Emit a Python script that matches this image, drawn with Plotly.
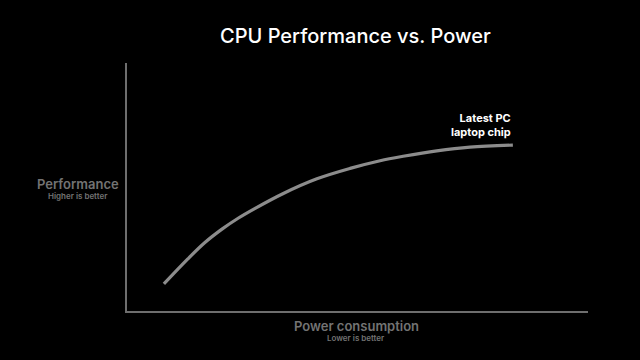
import plotly.graph_objects as go

# Data (abstract units: power 0-100, performance 0-100)
power = [8.0, 13.2, 16.9, 20.6, 24.1, 27.8, 33.8, 41.2, 48.4, 54.9, 59.9, 67.2, 74.4, 83.7]
performance = [10.9, 21.0, 27.6, 33.0, 37.4, 41.4, 47.3, 53.3, 57.5, 60.6, 62.4, 64.6, 66.1, 66.9]

title_text = "CPU Performance vs. Power"
x_label = "Power consumption"
x_sub = "Lower is better"
y_label = "Performance"
y_sub = "Higher is better"
chip_label = "Latest PC<br>laptop chip"

W, H = 640, 360
L, R, T, B = 127, 52, 63, 49

fig = go.Figure()
fig.add_trace(go.Scatter(
    x=power, y=performance, mode="lines",
    line=dict(color="#8c8c8c", width=3.2, shape="spline", smoothing=1.0),
    hoverinfo="skip", showlegend=False,
))

def px(x):
    return (x - L) / (W - L - R)

def py(y):
    return (H - B - y) / (H - T - B)

FONT = "Inter, Roboto, Arial, sans-serif"
ann = [
    dict(text=title_text, x=px(355), y=py(36), font=dict(size=20, color="#ffffff", family=FONT, weight=500)),
    dict(text=y_label, x=px(78), y=py(184), font=dict(size=13, color="#737373", family=FONT, weight=600)),
    dict(text=y_sub, x=px(78), y=py(196), font=dict(size=8, color="#737373", family=FONT, weight=600)),
    dict(text=x_label, x=px(356), y=py(326), font=dict(size=13, color="#737373", family=FONT, weight=600)),
    dict(text=x_sub, x=px(356), y=py(338), font=dict(size=8, color="#737373", family=FONT, weight=600)),
]
annotations = []
for a in ann:
    a.update(xref="paper", yref="paper", showarrow=False, xanchor="center", yanchor="middle")
    annotations.append(a)
annotations.append(dict(
    text=chip_label, xref="paper", yref="paper", x=px(513), y=py(125),
    xanchor="right", yanchor="middle", align="right", showarrow=False,
    font=dict(size=11, color="#ffffff", family=FONT, weight=700),
))

fig.update_layout(
    width=W, height=H,
    margin=dict(l=L, r=R, t=T, b=B, pad=0),
    paper_bgcolor="#000000", plot_bgcolor="#000000",
    xaxis=dict(range=[0, 100], showgrid=False, zeroline=False, showticklabels=False,
               ticks="", showline=True, linecolor="#6e6e6e", linewidth=1.5, fixedrange=True),
    yaxis=dict(range=[0, 100], showgrid=False, zeroline=False, showticklabels=False,
               ticks="", showline=True, linecolor="#6e6e6e", linewidth=1.5, fixedrange=True),
    annotations=annotations,
)

fig.write_html(
    "out.html",
    config={"displayModeBar": False},
    post_script="document.body.style.margin='0';document.body.style.background='#000';",
)
